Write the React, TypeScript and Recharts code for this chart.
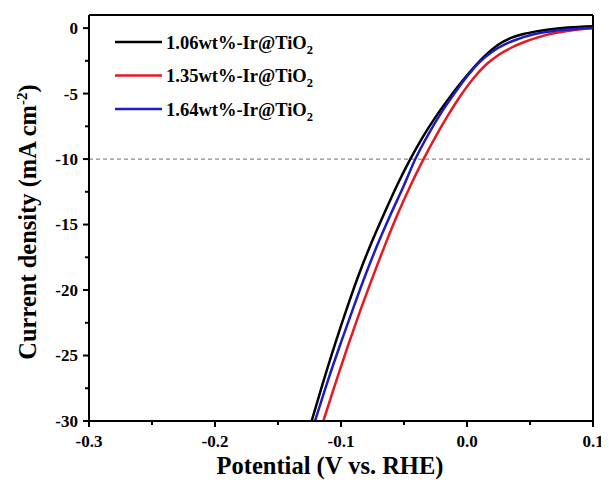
import { LineChart, Line, XAxis, YAxis, ReferenceLine, Legend } from 'recharts';

const seriesNames = ['1.06wt%-Ir@TiO', '1.35wt%-Ir@TiO', '1.64wt%-Ir@TiO'];
const seriesColors = ['#000000', '#e8181e', '#1c1cc4'];

// LSV curves: potential (V vs. RHE) and current density (mA cm-2)
const potential106 = [-0.1233, -0.115, -0.105, -0.095, -0.085, -0.075, -0.065, -0.055, -0.045, -0.035, -0.025, -0.015, -0.005, 0.005, 0.015, 0.025, 0.035, 0.045, 0.055, 0.065, 0.08, 0.1];
const current106 = [-30, -27.3, -24.2, -21.3, -18.6, -16.2, -14.0, -11.9, -10.0, -8.3, -6.8, -5.45, -4.2, -3.05, -2.05, -1.25, -0.75, -0.45, -0.25, -0.1, 0.05, 0.15];

const potential135 = [-0.114, -0.105, -0.095, -0.085, -0.075, -0.065, -0.055, -0.045, -0.035, -0.025, -0.015, -0.005, 0.005, 0.015, 0.025, 0.035, 0.045, 0.055, 0.065, 0.08, 0.1];
const current135 = [-30, -27.3, -24.4, -21.65, -19.05, -16.55, -14.2, -12.05, -10.1, -8.3, -6.65, -5.15, -3.85, -2.8, -2.05, -1.5, -1.08, -0.75, -0.48, -0.22, 0.0];

const potential164 = [-0.1206, -0.11, -0.1, -0.09, -0.08, -0.07, -0.06, -0.05, -0.041, -0.03, -0.02, -0.01, 0.0, 0.01, 0.02, 0.03, 0.04, 0.05, 0.06, 0.07, 0.085, 0.1];
const current164 = [-30, -26.8, -24.0, -21.3, -18.7, -16.3, -14.1, -12.0, -10.0, -8.0, -6.4, -5.0, -3.7, -2.6, -1.8, -1.25, -0.85, -0.55, -0.34, -0.2, -0.08, 0.0];

const xTicks = [-0.3, -0.25, -0.2, -0.15, -0.1, -0.05, 0, 0.05, 0.1];
const yTicks = [0, -2.5, -5, -7.5, -10, -12.5, -15, -17.5, -20, -22.5, -25, -27.5, -30];

const toPoints = (xs: number[], ys: number[]) => xs.map((v, i) => ({ v, j: ys[i] }));
const series = [
  toPoints(potential106, current106),
  toPoints(potential135, current135),
  toPoints(potential164, current164),
];

const FONT = '"Liberation Serif", "Times New Roman", serif';

const XTick = (props: any) => {
  const { x, y, payload } = props;
  const val = payload.value as number;
  const major = Math.abs(val * 10 - Math.round(val * 10)) < 1e-6;
  const axisY = y - 8;
  return (
    <g>
      <line x1={x} x2={x} y1={axisY} y2={axisY + (major ? 6 : 4)} stroke="#000" strokeWidth={2} />
      {major && (
        <text x={x} y={y + 18} textAnchor="middle" fontFamily={FONT} fontWeight="bold" fontSize={17} fill="#000">
          {val.toFixed(1)}
        </text>
      )}
    </g>
  );
};

const YTick = (props: any) => {
  const { x, y, payload } = props;
  const val = payload.value as number;
  const major = Math.abs(val / 5 - Math.round(val / 5)) < 1e-6;
  const axisX = x + 11;
  return (
    <g>
      <line x1={axisX} x2={axisX - (major ? 6 : 4)} y1={y} y2={y} stroke="#000" strokeWidth={2} />
      {major && (
        <text x={x} y={y} dy="0.35em" textAnchor="end" fontFamily={FONT} fontWeight="bold" fontSize={17} fill="#000">
          {String(val)}
        </text>
      )}
    </g>
  );
};

const renderLegend = () => (
  <svg width={260} height={100}>
    {seriesNames.map((name, i) => {
      const cy = 12 + i * 33.5;
      return (
        <g key={name}>
          <line x1={0} x2={47} y1={cy} y2={cy} stroke={seriesColors[i]} strokeWidth={2.5} />
          <text x={51} y={cy + 6.5} fontFamily={FONT} fontWeight="bold" fontSize={18.5} fill="#000">
            {name}
            <tspan dy={5} fontSize={12.5}>2</tspan>
          </text>
        </g>
      );
    })}
  </svg>
);

const xTitle = (props: any) => {
  const { viewBox } = props;
  return (
    <text x={viewBox.x + viewBox.width / 2 - 11} y={viewBox.y + 53} textAnchor="middle" fontFamily={FONT} fontWeight="bold" fontSize={24.5} fill="#000">
      Potential (V vs. RHE)
    </text>
  );
};

const yTitle = () => {
  const cx = 28;
  const cy = 214;
  return (
    <text x={cx} y={cy} transform={`rotate(-90, ${cx}, ${cy})`} textAnchor="middle" fontFamily={FONT} fontWeight="bold" fontSize={24.5} fill="#000">
      Current density (mA cm<tspan dy={-9} fontSize={15}>-2</tspan><tspan dy={9}>)</tspan>
    </text>
  );
};

export default function App() {
  return (
    <div style={{ width: 601, height: 481 }}>
      <LineChart width={601} height={481} margin={{ top: 7, right: 16, bottom: 0, left: 0 }}>
        <XAxis
          dataKey="v"
          type="number"
          domain={[-0.3, 0.1]}
          ticks={xTicks}
          allowDataOverflow
          height={68}
          tickLine={false}
          tickSize={6}
          tickMargin={2}
          tick={<XTick />}
          axisLine={{ stroke: '#000', strokeWidth: 2 }}
          label={{ content: xTitle }}
        />
        <YAxis
          type="number"
          domain={[-30, 1]}
          ticks={yTicks}
          allowDataOverflow
          width={81}
          tickLine={false}
          tickSize={6}
          tickMargin={5}
          tick={<YTick />}
          axisLine={{ stroke: '#000', strokeWidth: 2 }}
          label={{ content: yTitle }}
        />
        <ReferenceLine y={-10} stroke="#8c8c8c" strokeWidth={1.3} strokeDasharray="4 3" />
        <ReferenceLine y={1} stroke="#000" strokeWidth={2} />
        <ReferenceLine x={0.1} stroke="#000" strokeWidth={2} />
        {series.map((pts, i) => (
          <Line
            key={seriesNames[i]}
            data={pts}
            dataKey="j"
            name={seriesNames[i]}
            type="monotone"
            stroke={seriesColors[i]}
            strokeWidth={2.5}
            dot={false}
            isAnimationActive={false}
          />
        ))}
        <Legend
          layout="vertical"
          align="center"
          verticalAlign="middle"
          content={renderLegend}
          wrapperStyle={{ top: 22, left: 107, width: 260 }}
        />
      </LineChart>
    </div>
  );
}
